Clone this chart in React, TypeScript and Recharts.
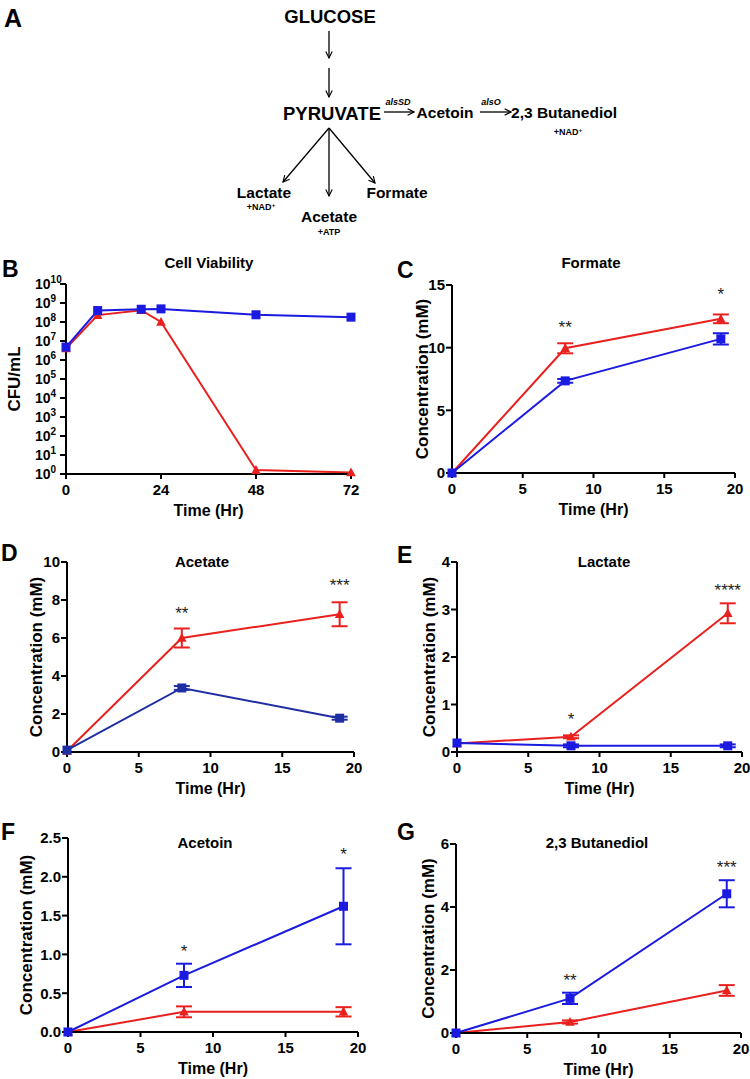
import React from 'react';
import { ComposedChart, Line, Scatter, XAxis, YAxis, ErrorBar } from 'recharts';

const RED = '#e8211f';
const BLUE = '#1a1ae0';
const NAVY = '#1f2ea3';
const FONT = '"Liberation Sans", Arial, Helvetica, sans-serif';

// ---- data ----
const viabilityTime = [0, 8, 19, 24, 48, 72];
const viabilityBlue = [4.8e6, 4.0e8, 4.7e8, 4.9e8, 2.4e8, 1.8e8];
const viabilityRed = [4.0e6, 2.3e8, 4.2e8, 1.0e8, 1.6, 1.2];

const metTime = [0, 8, 19];

const formateRed = [0, 9.95, 12.3];
const formateRedErr = [0, 0.4, 0.35];
const formateBlue = [0, 7.35, 10.7];
const formateBlueErr = [0, 0.15, 0.45];

const acetateRed = [0.05, 6.0, 7.25];
const acetateRedErr = [0, 0.5, 0.63];
const acetateBlue = [0.1, 3.37, 1.78];
const acetateBlueErr = [0, 0.1, 0.08];

const lactateRed = [0.18, 0.32, 2.92];
const lactateRedErr = [0, 0.03, 0.21];
const lactateBlue = [0.19, 0.13, 0.13];
const lactateBlueErr = [0, 0.03, 0.03];

const acetoinRed = [0, 0.26, 0.26];
const acetoinRedErr = [0, 0.07, 0.06];
const acetoinBlue = [0, 0.73, 1.62];
const acetoinBlueErr = [0, 0.15, 0.49];

const butanediolRed = [0, 0.35, 1.35];
const butanediolRedErr = [0, 0.05, 0.17];
const butanediolBlue = [0, 1.1, 4.42];
const butanediolBlueErr = [0, 0.18, 0.43];

// significance marks: time, height (axis units), label
const formateSig = [{ t: 8, v: 12.0, label: '**' }, { t: 19, v: 14.6, label: '*' }];
const acetateSig = [{ t: 8, v: 7.55, label: '**' }, { t: 19, v: 9.0, label: '***' }];
const lactateSig = [{ t: 8, v: 0.78, label: '*' }, { t: 19, v: 3.5, label: '****' }];
const acetoinSig = [{ t: 8, v: 1.1, label: '*' }, { t: 19, v: 2.34, label: '*' }];
const butanediolSig = [{ t: 8, v: 1.8, label: '**' }, { t: 19, v: 5.4, label: '***' }];

const timeTicks = [0, 5, 10, 15, 20];
const viabilityTicks = [0, 24, 48, 72];
const logTicks = [1, 1e1, 1e2, 1e3, 1e4, 1e5, 1e6, 1e7, 1e8, 1e9, 1e10];

type Pt = { t: number; v: number; e: number };
type Sig = { t: number; v: number; label: string };

const toPoints = (t: number[], v: number[], e?: number[]): Pt[] =>
  t.map((x, i) => ({ t: x, v: v[i], e: e ? e[i] : 0 }));

// ---- small render helpers ----
const Square = (p: any) => {
  if (p.cx == null || p.cy == null) return null;
  return <rect x={p.cx - 4.5} y={p.cy - 4.5} width={9} height={9} fill={p.color} />;
};

const Tri = (p: any) => {
  if (p.cx == null || p.cy == null) return null;
  const { cx, cy } = p;
  return <polygon points={`${cx},${cy - 5} ${cx + 4.8},${cy + 3.8} ${cx - 4.8},${cy + 3.8}`} fill={p.color} />;
};

const Star = (p: any) => {
  if (p.cx == null || p.cy == null) return null;
  return (
    <text x={p.cx} y={p.cy + 10} textAnchor="middle" fontSize={17} fill="#222">
      {p.payload.label}
    </text>
  );
};

const PowTick = (p: any) => {
  const exp = Math.round(Math.log10(p.payload.value));
  return (
    <text x={p.x - 24} y={p.y} dy={5} textAnchor="start" fill="#000" fontWeight={700} fontSize={14}>
      10<tspan fontSize={10} dy={-6}>{exp}</tspan>
    </text>
  );
};

const XTitle = (p: any) => {
  const { x, y, width } = p.viewBox;
  return (
    <text x={x + width / 2} y={y + 36} textAnchor="middle" dominantBaseline="central" fontSize={16} fontWeight={700} fill="#000">
      Time (Hr)
    </text>
  );
};

const YTitle = (p: any) => {
  const { x, y, width, height } = p.viewBox;
  const cx = x + width - p.gap;
  const cy = y + height / 2;
  return (
    <text x={cx} y={cy} transform={`rotate(-90 ${cx} ${cy})`} textAnchor="middle" dominantBaseline="central" fontSize={17} fontWeight={700} fill="#000">
      {p.text}
    </text>
  );
};

interface PanelProps {
  box: [number, number, number, number];
  xDomain: [number, number];
  xTicks: number[];
  yDomain: [number, number];
  yTicks: number[];
  log?: boolean;
  yFmt?: (v: number) => string;
  red: Pt[];
  blue: Pt[];
  blueColor?: string;
  bars?: boolean;
  sig?: Sig[];
  yLabel: string;
  yGap: number;
  yWidth?: number;
}

const axisStyle = { stroke: '#000', strokeWidth: 2 };
const tickText = { fill: '#000', fontSize: 15, fontWeight: 700 };

const Panel: React.FC<PanelProps> = ({
  box, xDomain, xTicks, yDomain, yTicks, log, yFmt, red, blue, blueColor = BLUE, bars = true, sig, yLabel, yGap, yWidth = 60,
}) => {
  const [left, top, w, h] = box;
  const mTop = 14;
  const mRight = 18;
  const xh = 50;
  return (
    <div style={{ position: 'absolute', left: left - yWidth, top: top - mTop }}>
      <ComposedChart width={yWidth + w + mRight} height={mTop + h + xh} margin={{ top: mTop, right: mRight, bottom: 0, left: 0 }}>
        <XAxis
          type="number" dataKey="t" domain={xDomain} ticks={xTicks} interval={0} height={xh}
          axisLine={axisStyle} tickLine={axisStyle} tickSize={5} tickMargin={5} tick={tickText}
          label={<XTitle />}
        />
        <YAxis
          type="number" domain={yDomain} ticks={yTicks} interval={0} width={yWidth} scale={log ? 'log' : 'linear'}
          axisLine={axisStyle} tickLine={axisStyle} tickSize={6} tickMargin={1}
          tick={log ? <PowTick /> : tickText} tickFormatter={yFmt}
          label={<YTitle text={yLabel} gap={yGap} />}
        />
        <Line data={red} dataKey="v" stroke={RED} strokeWidth={2} dot={<Tri color={RED} />} activeDot={false} isAnimationActive={false}>
          {bars && <ErrorBar dataKey="e" width={8} strokeWidth={2} stroke={RED} direction="y" />}
        </Line>
        <Line data={blue} dataKey="v" stroke={blueColor} strokeWidth={2} dot={<Square color={blueColor} />} activeDot={false} isAnimationActive={false}>
          {bars && <ErrorBar dataKey="e" width={8} strokeWidth={2} stroke={blueColor} direction="y" />}
        </Line>
        {sig && <Scatter data={sig} dataKey="v" shape={(p: any) => <Star {...p} />} isAnimationActive={false} />}
      </ComposedChart>
    </div>
  );
};

// ---- panel A pathway + letters and titles ----
const Diagram = () => {
  const big = { fontSize: 18.5, fontWeight: 700, textAnchor: 'middle' as const };
  const mid = { fontSize: 15.5, fontWeight: 700, textAnchor: 'middle' as const };
  const small = { fontSize: 9, fontWeight: 700, textAnchor: 'middle' as const };
  const gene = { fontSize: 9, fontWeight: 700, fontStyle: 'italic', textAnchor: 'middle' as const };
  const letter = { fontSize: 23, fontWeight: 700 };
  const title = { fontSize: 15, fontWeight: 700, textAnchor: 'middle' as const };
  const ln = { stroke: '#000', strokeWidth: 1.3, markerEnd: 'url(#ah)' };
  return (
    <svg width={750} height={1079} style={{ position: 'absolute', left: 0, top: 0 }}>
      <defs>
        <marker id="ah" viewBox="0 0 10 10" refX="9" refY="5" markerWidth="8" markerHeight="8" markerUnits="userSpaceOnUse" orient="auto">
          <path d="M1,1 L9,5 L1,9" fill="none" stroke="#000" strokeWidth="1.4" />
        </marker>
      </defs>
      <text x={4} y={27} fontSize={25} fontWeight={700}>A</text>
      <text x={330} y={22.5} {...big}>GLUCOSE</text>
      <line x1={329} y1={31} x2={329} y2={58} {...ln} />
      <line x1={329} y1={68} x2={329} y2={97} {...ln} />
      <text x={332} y={119.5} {...big}>PYRUVATE</text>
      <text x={398} y={105} {...gene}>alsSD</text>
      <line x1={384} y1={112} x2={414} y2={112} {...ln} />
      <text x={445} y={117.5} {...mid}>Acetoin</text>
      <text x={491} y={105} {...gene}>alsO</text>
      <line x1={480} y1={112} x2={511} y2={112} {...ln} />
      <text x={564} y={117.5} {...mid}>2,3 Butanediol</text>
      <text x={568} y={135} {...small}>+NAD<tspan fontSize={6} dy={-3}>+</tspan></text>
      <line x1={329} y1={128} x2={283} y2={182} {...ln} />
      <line x1={329} y1={128} x2={329} y2={196} {...ln} />
      <line x1={329} y1={128} x2={375} y2={183} {...ln} />
      <text x={264} y={197.5} {...mid}>Lactate</text>
      <text x={261} y={210} {...small}>+NAD<tspan fontSize={6} dy={-3}>+</tspan></text>
      <text x={329} y={221.5} {...mid}>Acetate</text>
      <text x={329} y={235} {...small}>+ATP</text>
      <text x={397} y={197.5} {...mid}>Formate</text>

      <text x={2} y={277} {...letter}>B</text>
      <text x={397} y={278} {...letter}>C</text>
      <text x={1} y={561} {...letter}>D</text>
      <text x={397} y={563} {...letter}>E</text>
      <text x={1} y={840} {...letter}>F</text>
      <text x={397} y={840} {...letter}>G</text>

      <text x={209} y={268} {...title}>Cell Viability</text>
      <text x={591} y={268} {...title}>Formate</text>
      <text x={202} y={567} {...title}>Acetate</text>
      <text x={604} y={567} {...title}>Lactate</text>
      <text x={205} y={848} {...title}>Acetoin</text>
      <text x={597} y={848} {...title}>2,3 Butanediol</text>
    </svg>
  );
};

const f1 = (v: number) => v.toFixed(1);

export default function App() {
  return (
    <div style={{ position: 'absolute', left: 0, top: 0, width: 750, height: 1079, overflow: 'hidden', background: '#fff', fontFamily: FONT }}>
      <Diagram />
      <Panel
        box={[66, 284, 285, 190]} xDomain={[0, 72]} xTicks={viabilityTicks} yDomain={[1, 1e10]} yTicks={logTicks} log
        red={toPoints(viabilityTime, viabilityRed)} blue={toPoints(viabilityTime, viabilityBlue)} bars={false}
        yLabel="CFU/mL" yGap={52} yWidth={66}
      />
      <Panel
        box={[452, 285, 283, 188]} xDomain={[0, 20]} xTicks={timeTicks} yDomain={[0, 15]} yTicks={[0, 5, 10, 15]}
        red={toPoints(metTime, formateRed, formateRedErr)} blue={toPoints(metTime, formateBlue, formateBlueErr)}
        sig={formateSig} yLabel="Concentration (mM)" yGap={30}
      />
      <Panel
        box={[67, 562, 287, 190]} xDomain={[0, 20]} xTicks={timeTicks} yDomain={[0, 10]} yTicks={[0, 2, 4, 6, 8, 10]}
        red={toPoints(metTime, acetateRed, acetateRedErr)} blue={toPoints(metTime, acetateBlue, acetateBlueErr)} blueColor={NAVY}
        sig={acetateSig} yLabel="Concentration (mM)" yGap={31}
      />
      <Panel
        box={[457, 562, 285, 190]} xDomain={[0, 20]} xTicks={timeTicks} yDomain={[0, 4]} yTicks={[0, 1, 2, 3, 4]}
        red={toPoints(metTime, lactateRed, lactateRedErr)} blue={toPoints(metTime, lactateBlue, lactateBlueErr)}
        sig={lactateSig} yLabel="Concentration (mM)" yGap={28}
      />
      <Panel
        box={[68, 838, 290, 194]} xDomain={[0, 20]} xTicks={timeTicks} yDomain={[0, 2.5]} yTicks={[0, 0.5, 1, 1.5, 2, 2.5]} yFmt={f1}
        red={toPoints(metTime, acetoinRed, acetoinRedErr)} blue={toPoints(metTime, acetoinBlue, acetoinBlueErr)}
        sig={acetoinSig} yLabel="Concentration (mM)" yGap={42}
      />
      <Panel
        box={[456, 844, 285, 189]} xDomain={[0, 20]} xTicks={timeTicks} yDomain={[0, 6]} yTicks={[0, 2, 4, 6]}
        red={toPoints(metTime, butanediolRed, butanediolRedErr)} blue={toPoints(metTime, butanediolBlue, butanediolBlueErr)}
        sig={butanediolSig} yLabel="Concentration (mM)" yGap={28}
      />
    </div>
  );
}
